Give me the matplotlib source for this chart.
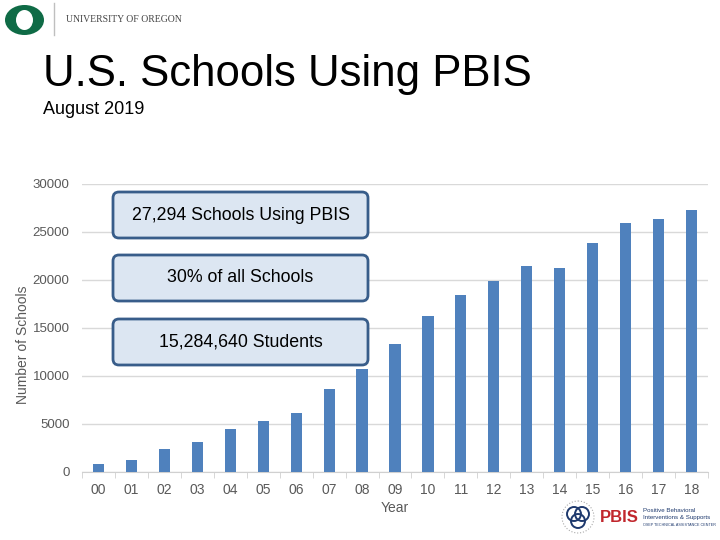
import matplotlib
matplotlib.use("Agg")
import matplotlib.pyplot as plt
from matplotlib.patches import FancyBboxPatch, Ellipse, Circle
import numpy as np

years = ["00", "01", "02", "03", "04", "05", "06", "07", "08", "09",
         "10", "11", "12", "13", "14", "15", "16", "17", "18"]
schools = [850, 1250, 2400, 3150, 4500, 5330, 6130, 8620, 10700, 13290,
           16200, 18450, 19940, 21500, 21210, 23880, 25890, 26380, 27294]
yticks = [0, 5000, 10000, 15000, 20000, 25000, 30000]
callouts = ["27,294 Schools Using PBIS", "30% of all Schools", "15,284,640 Students"]

plt.rcParams['font.family'] = ['Liberation Sans', 'DejaVu Sans']

W, H = 720, 540
fig = plt.figure(figsize=(7.2, 5.4), dpi=100)
fig.patch.set_facecolor("white")

# main chart axes (pixel-based placement)
L, R, B, T = 82, 708, 472, 184
ax = fig.add_axes([L / W, 1 - B / H, (R - L) / W, (B - T) / H])
x = np.arange(len(years))
ax.bar(x, schools, width=0.34, color="#4f81bd", zorder=3)
ax.set_xlim(-0.5, len(years) - 0.5)
ax.set_ylim(0, 30000)
ax.set_yticks(yticks)
ax.set_yticklabels([str(v) for v in yticks])
ax.set_xticks(x)
ax.set_xticklabels(years)
ax.set_xticks(np.arange(-0.5, len(years)), minor=True)
ax.tick_params(axis="x", which="major", length=0, pad=8, labelsize=10, labelcolor="#595959")
ax.tick_params(axis="x", which="minor", length=4, color="#d0d0d0")
ax.tick_params(axis="y", length=0, pad=9, labelsize=9.5, labelcolor="#595959")
ax.grid(axis="y", color="#d9d9d9", linewidth=1, zorder=0)
for s in ["top", "right", "left"]:
    ax.spines[s].set_visible(False)
ax.spines["bottom"].set_color("#d0d0d0")
ax.set_xlabel("Year", fontsize=10, color="#595959", labelpad=3)
ax.set_ylabel("Number of Schools", fontsize=10, color="#595959")
ax.yaxis.set_label_coords((30 - L) / (R - L), (B - 345) / (B - T))

# overlay in pixel coordinates
ov = fig.add_axes([0, 0, 1, 1], zorder=10)
ov.set_xlim(0, W)
ov.set_ylim(H, 0)
ov.axis("off")
ov.patch.set_alpha(0)

# University of Oregon logo
ov.add_patch(Ellipse((24.5, 20), 39, 30, facecolor="#0f6b46", edgecolor="none"))
ov.add_patch(Ellipse((24.5, 20), 17, 20, facecolor="white", edgecolor="none"))
ov.plot([54, 54], [3, 35], color="#bfbfbf", linewidth=1)
ov.text(66, 19, "UNIVERSITY OF OREGON", fontsize=7, family=["Liberation Serif", "DejaVu Serif"],
        color="#444444", va="center", ha="left")

# titles
ov.text(43, 86, "U.S. Schools Using PBIS", fontsize=31.5, color="black", ha="left", va="baseline")
ov.text(43, 114, "August 2019", fontsize=13, color="black", ha="left", va="baseline")

# callout boxes
box_tops = [192, 255, 319]
for top, label in zip(box_tops, callouts):
    bx, by, bw, bh = 113, top, 255, 46
    ov.add_patch(FancyBboxPatch((bx + 6, by + 6), bw - 12, bh - 12,
                                boxstyle="round,pad=6", facecolor="#dce6f2",
                                edgecolor="#385d8a", linewidth=2))
    ov.text(bx + bw / 2, by + bh / 2, label, fontsize=12.8, color="black",
            ha="center", va="center")

# PBIS logo
ov.add_patch(Circle((578, 517), 16, fill=False, edgecolor="#aaaaaa", linewidth=0.8, linestyle=":"))
for dx, dy in [(-4, -3), (4, -3), (0, 4)]:
    ov.add_patch(Circle((578 + dx, 517 + dy), 7, fill=False, edgecolor="#1f3a6e", linewidth=1.4))
ov.text(600, 518, "PBIS", fontsize=12, fontweight="bold", color="#c1272d", ha="left", va="center")
ov.text(643, 510, "Positive Behavioral", fontsize=4.4, color="#1f3a6e", ha="left", va="center")
ov.text(643, 517, "Interventions & Supports", fontsize=4.4, color="#1f3a6e", ha="left", va="center")
ov.text(643, 525, "OSEP TECHNICAL ASSISTANCE CENTER", fontsize=2.7, color="#1f3a6e", ha="left", va="center")

fig.savefig("out.png", dpi=100)
